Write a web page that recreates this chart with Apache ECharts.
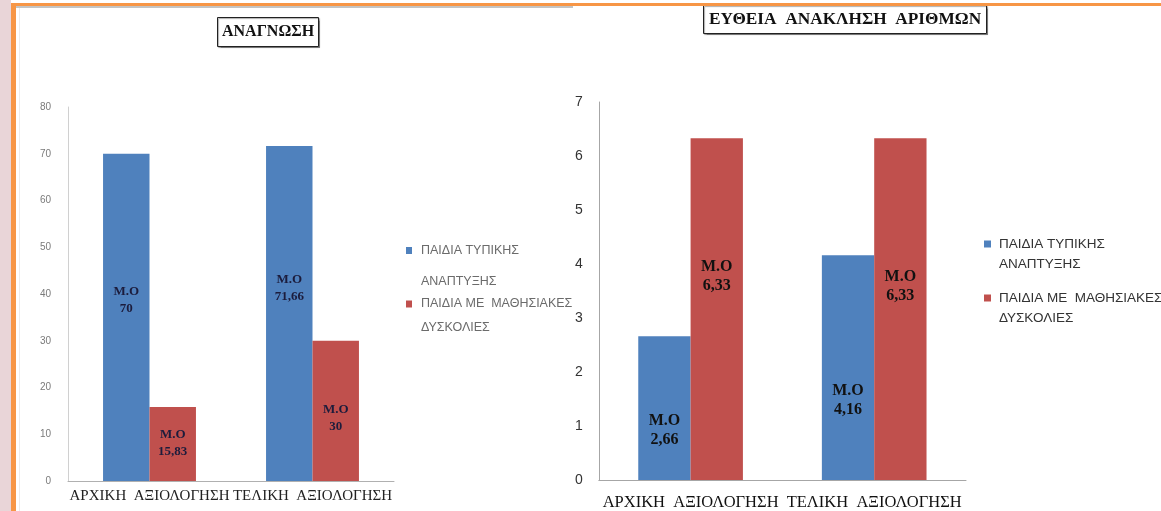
<!DOCTYPE html>
<html><head><meta charset="utf-8">
<script src="https://cdn.jsdelivr.net/npm/echarts@6/dist/echarts.min.js"></script>
<style>
html,body{margin:0;padding:0;background:#fff;width:1161px;height:511px;overflow:hidden;position:relative}
#left{position:absolute;left:16px;top:0;width:556px;height:511px;overflow:hidden}
#right{position:absolute;left:572px;top:0;width:589px;height:511px;overflow:hidden}
.deco{position:absolute;z-index:5}
</style></head>
<body>
<div id="left"></div>
<div id="right"></div>
<div class="deco" style="left:0;top:0;width:11px;height:511px;background:#e9d5d8"></div>
<div class="deco" style="left:11px;top:3px;width:5px;height:508px;background:#f79646"></div>
<div class="deco" style="left:11px;top:3px;width:1150px;height:3px;background:#f79646"></div>
<div class="deco" style="left:16px;top:6px;width:557px;height:2px;background:#c4c4c4"></div>
<div class="deco" style="left:19px;top:8px;width:1px;height:503px;background:#ececec"></div>
<script>
// ---- data ----
const categories = ['ΑΡΧΙΚΗ  ΑΞΙΟΛΟΓΗΣΗ', 'ΤΕΛΙΚΗ  ΑΞΙΟΛΟΓΗΣΗ'];
const seriesNames = ['ΠΑΙΔΙΑ ΤΥΠΙΚΗΣ\nΑΝΑΠΤΥΞΗΣ', 'ΠΑΙΔΙΑ ΜΕ  ΜΑΘΗΣΙΑΚΕΣ\nΔΥΣΚΟΛΙΕΣ'];
const labelPrefix = 'Μ.Ο';

const readingTitle = 'ΑΝΑΓΝΩΣΗ';
const readingTypical = [70, 71.66];
const readingDifficulties = [15.83, 30];
const readingTicks = [0, 10, 20, 30, 40, 50, 60, 70, 80];

const recallTitle = 'ΕΥΘΕΙΑ  ΑΝΑΚΛΗΣΗ  ΑΡΙΘΜΩΝ';
const recallTypical = [2.66, 4.16];
const recallDifficulties = [6.33, 6.33];
const recallTicks = [0, 1, 2, 3, 4, 5, 6, 7];

// ---- styles ----
const colors = ['#4f81bd', '#c0504d'];
const leftCfg = {
  titleLeft: 201, titleTop: 17, titlePad: [7, 5], titleSize: 16,
  legendLeft: 390, legendTops: [204, 268], legendLH: [31, 24], iconW: 6, iconH: 7,
  legendSize: 12.5, legendColor: '#6b6b6b', legendTextPad: 4,
  grid: { left: 52, right: 178, top: 107, bottom: 30 },
  xMargin: 8, xSize: 15, xColor: '#222',
  ySize: 10, yColor: '#7a7a7a', yMargin: 17,
  yLine: '#d0d0d0', xLine: '#b0b0b0',
  lblSize: 13, lblColor: '#1c1c3c', lblLH: 17,
  offsets: [[-17, -25], [-1, 7]]
};
const rightCfg = {
  titleLeft: 131, titleTop: 5, titlePad: [6, 6], titleSize: 17.3,
  legendLeft: 412, legendTops: [214, 268], legendLH: [20, 20], iconW: 7, iconH: 7,
  legendSize: 13.5, legendColor: '#333', legendTextPad: 3,
  grid: { left: 26, right: 195, top: 102, bottom: 30 },
  xMargin: 14, xSize: 16.5, xColor: '#111',
  ySize: 14, yColor: '#333', yMargin: 16,
  yLine: '#a6a6a6', xLine: '#a6a6a6',
  lblSize: 16, lblColor: '#111', lblLH: 19,
  offsets: [[22, 33], [-33, -23]]
};

function fmtVal(v) { return labelPrefix + '\n' + String(v).replace('.', ','); }

function buildOption(cfg, title, seriesData, ticks) {
  return {
    animation: false,
    title: {
      text: title, left: cfg.titleLeft, top: cfg.titleTop, padding: cfg.titlePad,
      borderWidth: 1, borderColor: '#222', backgroundColor: '#fff',
      shadowColor: 'rgba(0,0,0,0.35)', shadowOffsetX: 1, shadowOffsetY: 1, shadowBlur: 1,
      textStyle: { fontFamily: 'Liberation Serif', fontWeight: 'bold', fontSize: cfg.titleSize, color: '#111' }
    },
    legend: seriesNames.map((n, i) => ({
      data: [n], orient: 'vertical', left: cfg.legendLeft, top: cfg.legendTops[i], padding: 0,
      itemWidth: cfg.iconW, itemHeight: cfg.iconH, icon: 'rect', selectedMode: false,
      formatter: s => '\n' + s,
      textStyle: { fontFamily: 'Liberation Sans', fontSize: cfg.legendSize, lineHeight: cfg.legendLH[i],
        color: cfg.legendColor, padding: [0, 0, 0, cfg.legendTextPad] }
    })),
    grid: cfg.grid,
    xAxis: {
      type: 'category', data: categories,
      axisTick: { show: false },
      axisLine: { lineStyle: { color: cfg.xLine, width: 1 } },
      axisLabel: { interval: 0, margin: cfg.xMargin, fontFamily: 'Liberation Serif', fontSize: cfg.xSize, color: cfg.xColor }
    },
    yAxis: {
      type: 'value', min: ticks[0], max: ticks[ticks.length - 1], interval: ticks[1] - ticks[0],
      splitLine: { show: false },
      axisLine: { show: true, lineStyle: { color: cfg.yLine, width: 1 } },
      axisTick: { show: false },
      axisLabel: { margin: cfg.yMargin, fontFamily: 'Liberation Sans', fontSize: cfg.ySize, color: cfg.yColor }
    },
    series: seriesData.map((arr, si) => ({
      name: seriesNames[si], type: 'bar', barGap: '0%', barCategoryGap: '43%',
      itemStyle: { color: colors[si] },
      label: {
        show: true, position: 'inside', formatter: p => fmtVal(p.value),
        fontFamily: 'Liberation Serif', fontWeight: 'bold', fontSize: cfg.lblSize,
        lineHeight: cfg.lblLH, color: cfg.lblColor
      },
      data: arr.map((v, j) => ({ value: v, label: { offset: [0, cfg.offsets[si][j]] } }))
    }))
  };
}

const c1 = echarts.init(document.getElementById('left'));
c1.setOption(buildOption(leftCfg, readingTitle, [readingTypical, readingDifficulties], readingTicks));
const c2 = echarts.init(document.getElementById('right'));
c2.setOption(buildOption(rightCfg, recallTitle, [recallTypical, recallDifficulties], recallTicks));
</script>
</body></html>
